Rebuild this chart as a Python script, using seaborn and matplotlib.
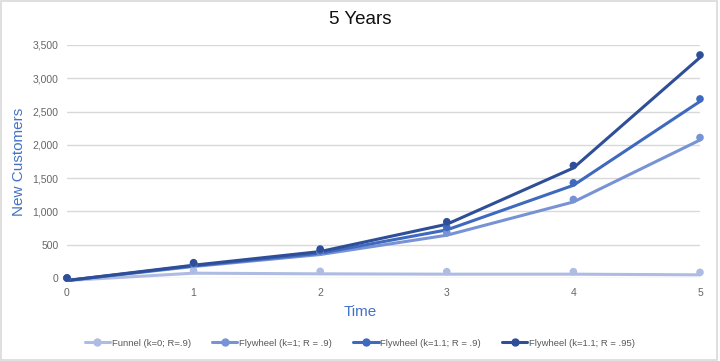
import matplotlib

matplotlib.use("Agg")
import matplotlib.pyplot as plt
import matplotlib.transforms as mtransforms
from matplotlib.lines import Line2D
from matplotlib.patches import Rectangle
import pandas as pd
import seaborn as sns

years = [0, 1, 2, 3, 4, 5]
funnel = [0, 110, 100, 95, 95, 85]
fly_k1 = [0, 210, 390, 680, 1180, 2110]
fly_k11 = [0, 220, 410, 760, 1430, 2690]
fly_k11_r95 = [0, 230, 435, 845, 1690, 3350]

series_names = [
    "Funnel (k=0; R=.9)",
    "Flywheel (k=1; R = .9)",
    "Flywheel (k=1.1; R = .9)",
    "Flywheel (k=1.1; R = .95)",
]
colors = ["#aebce3", "#7893d5", "#3f68bf", "#2e4f97"]

rows = []
for name, vals in zip(series_names, [funnel, fly_k1, fly_k11, fly_k11_r95]):
    for t, v in zip(years, vals):
        rows.append({"Time": t, "New Customers": v, "series": name})
df = pd.DataFrame(rows)
palette = dict(zip(series_names, colors))

sns.set_style("white")
plt.rcParams["font.family"] = ["Liberation Sans", "DejaVu Sans"]

fig = plt.figure(figsize=(7.2, 3.61), dpi=100)
ax = fig.add_axes([67 / 720, 1 - 278 / 361, 633 / 720, 233 / 361])

sns.lineplot(data=df, x="Time", y="New Customers", hue="series", palette=palette,
             linewidth=2.2, legend=False, ax=ax)
# lines sit a couple of pixels below the points in the original
shift = mtransforms.offset_copy(ax.transData, fig=fig, y=-2.5, units="dots")
for line in ax.lines:
    line.set_transform(shift)
    line.set_clip_on(False)

sns.scatterplot(data=df, x="Time", y="New Customers", hue="series", palette=palette,
                s=30, edgecolor="none", legend=False, ax=ax, zorder=3, clip_on=False)

ax.set_xlim(0, 5)
ax.set_ylim(0, 3500)
ax.set_xticks(years)
ax.set_yticks(range(0, 3501, 500))
ax.set_yticklabels([f"{v:,}" for v in range(0, 3501, 500)])
ax.grid(axis="y", color="#d9d9d9", linewidth=1)
ax.set_axisbelow(True)
for s in ax.spines.values():
    s.set_visible(False)
ax.tick_params(axis="both", length=0, labelsize=7.5, labelcolor="#666666")
ax.tick_params(axis="y", pad=6)
ax.tick_params(axis="x", pad=7)

ax.set_xlabel("Time", color="#4472c4", fontsize=11)
ax.xaxis.set_label_coords((360 - 67) / 633, -0.115)
ax.set_ylabel("New Customers", color="#4472c4", fontsize=11)
ax.yaxis.set_label_coords(-(67 - 26) / 633, 0.5)

fig.text(0.5, 1 - 19 / 361, "5 Years", ha="center", va="center", fontsize=13.5, color="#111111")

handles = [Line2D([0], [0], color=c, linewidth=2.2, marker="o", markersize=5) for c in colors]
fig.legend(handles, series_names, loc="center", bbox_to_anchor=(0.5, 1 - 343 / 361), ncol=4,
           frameon=False, fontsize=6.8, handlelength=2.7, handletextpad=0.2, columnspacing=2.2,
           labelcolor="#595959")

fig.add_artist(Rectangle((0.001, 0.002), 0.995, 0.996, transform=fig.transFigure,
                         fill=False, edgecolor="#d9d9d9", linewidth=1.2))

fig.savefig("out.png", dpi=100)
plt.close(fig)
